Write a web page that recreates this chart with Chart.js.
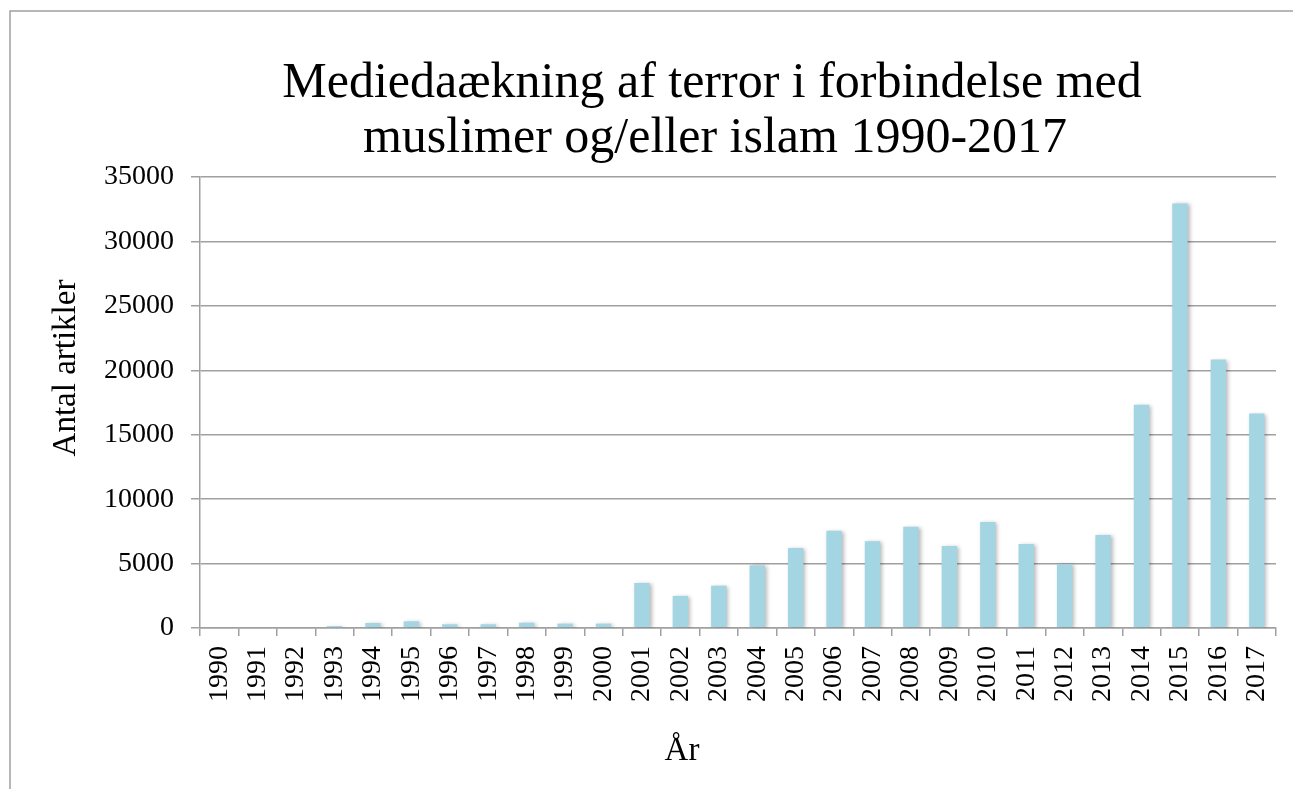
<!DOCTYPE html>
<html>
<head>
<meta charset="utf-8">
<script src="https://cdn.jsdelivr.net/npm/chart.js@4"></script>
<style>
  html, body { margin: 0; padding: 0; background: #fff; }
  #wrap { width: 1293px; height: 789px; }
</style>
</head>
<body>
<div id="wrap"><canvas id="chart" width="1293" height="789"></canvas></div>
<script>
// ====== Data ======
const years = ["1990", "1991", "1992", "1993", "1994", "1995", "1996", "1997", "1998", "1999",
  "2000", "2001", "2002", "2003", "2004", "2005", "2006", "2007", "2008", "2009",
  "2010", "2011", "2012", "2013", "2014", "2015", "2016", "2017"];
const articles = [0, 0, 0, 150, 390, 520, 290, 290, 410, 340,
  340, 3490, 2490, 3285, 4865, 6210, 7555, 6725, 7865, 6365,
  8225, 6520, 4940, 7220, 17335, 32950, 20830, 16640];
const yTicks = [0, 5000, 10000, 15000, 20000, 25000, 30000, 35000];

const titleLines = ["Mediedaækning af terror i forbindelse med", "muslimer og/eller islam 1990-2017"];
const yTitle = "Antal artikler";
const xTitle = "År";

const FONT = "'Liberation Serif', 'Times New Roman', serif";
const GRID = "#a0a0a0";

// ====== Plugins ======
const frame = {
  id: "frame",
  beforeDraw(chart) {
    const c = chart.ctx;
    c.save();
    c.fillStyle = "#fff";
    c.fillRect(0, 0, chart.width, chart.height);
    c.strokeStyle = "#a0a0a0";
    c.lineWidth = 1.5;
    c.strokeRect(10, 11, chart.width + 50, chart.height + 50);
    c.restore();
  },
};

const barShadow = {
  id: "barShadow",
  beforeDatasetsDraw(chart) {
    const c = chart.ctx;
    c.save();
    c.shadowColor = "rgba(0,0,0,0.28)";
    c.shadowBlur = 4;
    c.shadowOffsetX = 2;
    c.shadowOffsetY = 1;
  },
  afterDatasetsDraw(chart) {
    chart.ctx.restore();
  },
};

// titles drawn like the original (offset from plot centre)
const titles = {
  id: "titles",
  afterDraw(chart) {
    const c = chart.ctx;
    c.save();
    c.fillStyle = "#000";
    c.textAlign = "center";
    c.textBaseline = "alphabetic";
    c.font = `50px ${FONT}`;
    c.fillText(titleLines[0], 712, 97);
    c.fillText(titleLines[1], 715, 152);

    c.font = `33px ${FONT}`;
    c.fillText(xTitle, 682, 760);

    c.translate(75, 368);
    c.rotate(-Math.PI / 2);
    c.fillText(yTitle, 0, 0);
    c.restore();
  },
};

// ====== Chart ======
new Chart(document.getElementById("chart"), {
  type: "bar",
  data: {
    labels: years,
    datasets: [
      {
        data: articles,
        backgroundColor: "#a3d5e3",
        borderWidth: 0,
        barPercentage: 0.4,
        categoryPercentage: 1,
      },
    ],
  },
  options: {
    responsive: false,
    animation: false,
    layout: { padding: { top: 177, right: 17, left: 0, bottom: 0 } },
    plugins: {
      legend: { display: false },
      title: { display: false },
      tooltip: { enabled: false },
    },
    scales: {
      x: {
        afterFit: (s) => {
          s.height = 161;
          s.paddingLeft = 0;
          s.paddingRight = 0;
        },
        grid: {
          offset: true,
          drawOnChartArea: false,
          drawTicks: true,
          tickLength: 8,
          color: GRID,
          lineWidth: 1.5,
        },
        border: { color: GRID, width: 1.5 },
        ticks: {
          autoSkip: false,
          minRotation: 90,
          maxRotation: 90,
          padding: 10,
          color: "#000",
          font: { family: FONT, size: 28 },
        },
      },
      y: {
        min: 0,
        max: 35000,
        afterFit: (s) => {
          s.width = 200;
          s.paddingTop = 0;
          s.paddingBottom = 0;
        },
        afterBuildTicks: (s) => { s.ticks = yTicks.map((v) => ({ value: v })); },
        grid: {
          color: GRID,
          lineWidth: 1.5,
          tickLength: 9,
        },
        border: { color: GRID, width: 1.5 },
        ticks: {
          padding: 17,
          color: "#000",
          font: { family: FONT, size: 28 },
          callback: (v) => String(v),
        },
      },
    },
  },
  plugins: [frame, barShadow, titles],
});
</script>
</body>
</html>
